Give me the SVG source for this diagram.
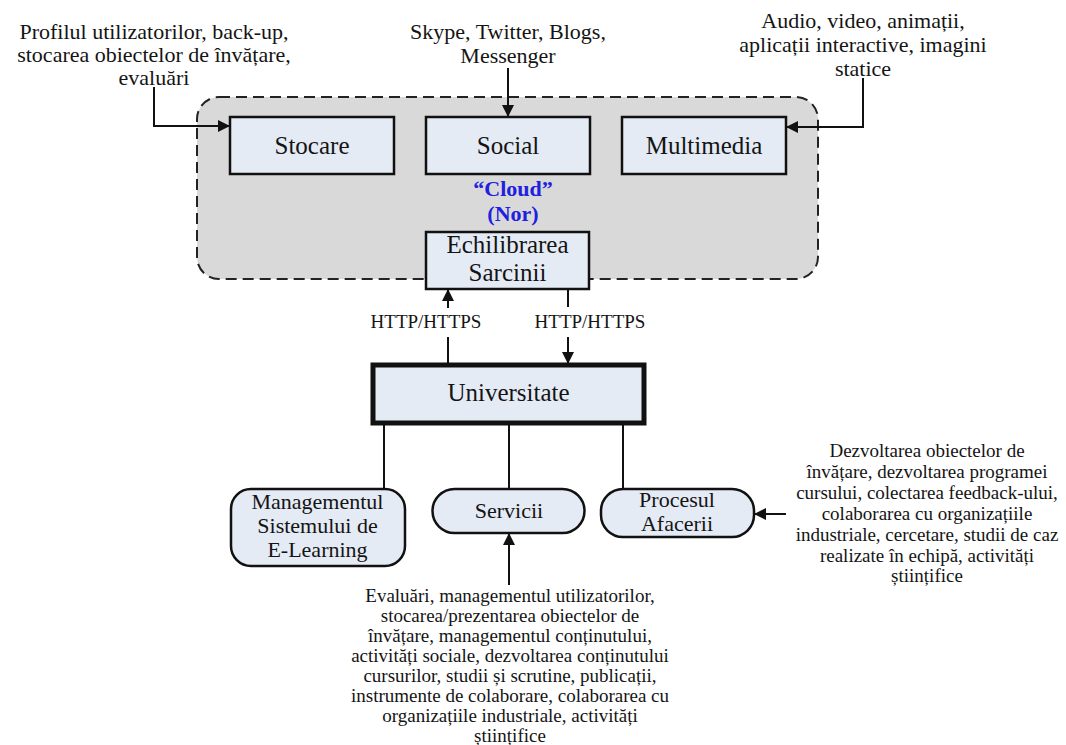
<svg xmlns="http://www.w3.org/2000/svg" width="1066" height="745" viewBox="0 0 1066 745">
  <style>
    text { font-family: "Liberation Serif", "Times New Roman", serif; fill: #141414; text-anchor: middle; }
    .note { font-size: 22px; }
    .small { font-size: 19px; }
    .box { fill: #e5ebf5; stroke: #111; stroke-width: 2.5; }
    .label { font-size: 25px; }
    .label2 { font-size: 22px; }
    .cloud { fill: #d9d9d9; stroke: #222; stroke-width: 2; stroke-dasharray: 11 6; }
    .cloudtxt { font-size: 22px; font-weight: bold; fill: #2020e0; }
    .conn { fill: none; stroke: #111; stroke-width: 2; }
  </style>
  <defs>
    <marker id="arrow" markerUnits="userSpaceOnUse" markerWidth="12" markerHeight="12" refX="11" refY="6" orient="auto">
      <path d="M0,0 L12,6 L0,12 z" fill="#111"/>
    </marker>
  </defs>

  <rect width="1066" height="745" fill="#ffffff"/>

  <!-- cloud area -->
  <g id="cloud">
    <rect class="cloud" x="197" y="97" width="621" height="182" rx="22"/>
    <text class="cloudtxt" x="513" y="196">“Cloud”</text>
    <text class="cloudtxt" x="513" y="221">(Nor)</text>
  </g>

  <g id="stocare">
    <rect class="box" x="230" y="117" width="164" height="57"/>
    <text class="label" x="312" y="154">Stocare</text>
  </g>
  <g id="social">
    <rect class="box" x="426" y="117" width="164" height="57"/>
    <text class="label" x="508" y="154">Social</text>
  </g>
  <g id="multimedia">
    <rect class="box" x="622" y="117" width="164" height="57"/>
    <text class="label" x="704" y="154">Multimedia</text>
  </g>
  <g id="echilibrare">
    <rect class="box" x="426" y="232" width="163" height="57"/>
    <text class="label" x="507.5" y="253">Echilibrarea</text>
    <text class="label" x="507.5" y="281">Sarcinii</text>
  </g>

  <g id="universitate">
    <rect x="373" y="365" width="271" height="58" fill="#e5ebf5" stroke="#111" stroke-width="5"/>
    <text class="label" x="508.5" y="401">Universitate</text>
  </g>

  <g id="management">
    <rect class="box" x="231" y="489" width="174" height="77" rx="20"/>
    <text class="label2" x="317.5" y="509">Managementul</text>
    <text class="label2" x="317.5" y="533">Sistemului de</text>
    <text class="label2" x="317.5" y="557">E-Learning</text>
  </g>
  <g id="servicii">
    <rect class="box" x="432.5" y="489" width="152" height="44" rx="22"/>
    <text class="label2" x="509" y="518">Servicii</text>
  </g>
  <g id="procesul">
    <rect class="box" x="601" y="489" width="153" height="48" rx="22"/>
    <text class="label2" x="677" y="507">Procesul</text>
    <text class="label2" x="677" y="531">Afacerii</text>
  </g>

  <!-- annotation texts -->
  <g id="note-stocare">
    <text class="note" x="154" y="39">Profilul utilizatorilor, back-up,</text>
    <text class="note" x="154" y="62">stocarea obiectelor de învățare,</text>
    <text class="note" x="154" y="85">evaluări</text>
  </g>
  <g id="note-social">
    <text class="note" x="508" y="39">Skype, Twitter, Blogs,</text>
    <text class="note" x="508" y="63">Messenger</text>
  </g>
  <g id="note-multimedia">
    <text class="note" x="863" y="28">Audio, video, animații,</text>
    <text class="note" x="863" y="52">aplicații interactive, imagini</text>
    <text class="note" x="863" y="76">statice</text>
  </g>
  <g id="http-labels">
    <text class="small" x="426" y="328">HTTP/HTTPS</text>
    <text class="small" x="590" y="328">HTTP/HTTPS</text>
  </g>
  <g id="note-procesul">
    <text class="small" x="927" y="457">Dezvoltarea obiectelor de</text>
    <text class="small" x="927" y="478">învățare, dezvoltarea programei</text>
    <text class="small" x="927" y="499">cursului, colectarea feedback-ului,</text>
    <text class="small" x="927" y="520">colaborarea cu organizațiile</text>
    <text class="small" x="927" y="541">industriale, cercetare, studii de caz</text>
    <text class="small" x="927" y="562">realizate în echipă, activități</text>
    <text class="small" x="927" y="582">științifice</text>
  </g>
  <g id="note-servicii">
    <text class="small" x="510" y="602">Evaluări, managementul utilizatorilor,</text>
    <text class="small" x="510" y="622">stocarea/prezentarea obiectelor de</text>
    <text class="small" x="510" y="642">învățare, managementul conținutului,</text>
    <text class="small" x="510" y="662">activități sociale, dezvoltarea conținutului</text>
    <text class="small" x="510" y="682">cursurilor, studii și scrutine, publicații,</text>
    <text class="small" x="510" y="702">instrumente de colaborare, colaborarea cu</text>
    <text class="small" x="510" y="722">organizațiile industriale, activități</text>
    <text class="small" x="510" y="742">științifice</text>
  </g>

  <!-- connectors -->
  <g id="connectors">
    <path class="conn" d="M154,87 V126 H229" marker-end="url(#arrow)"/>
    <path class="conn" d="M508,68 V116" marker-end="url(#arrow)"/>
    <path class="conn" d="M863,78 V127 H787" marker-end="url(#arrow)"/>
    <path class="conn" d="M448,364 V337"/>
    <path class="conn" d="M448,308 V290" marker-end="url(#arrow)"/>
    <path class="conn" d="M568,289 V307"/>
    <path class="conn" d="M568,337 V363" marker-end="url(#arrow)"/>
    <path class="conn" d="M384,424 V489"/>
    <path class="conn" d="M509,424 V489"/>
    <path class="conn" d="M623,424 V489"/>
    <path class="conn" d="M509,585 V534" marker-end="url(#arrow)"/>
    <path class="conn" d="M786,514 H755" marker-end="url(#arrow)"/>
  </g>
</svg>
